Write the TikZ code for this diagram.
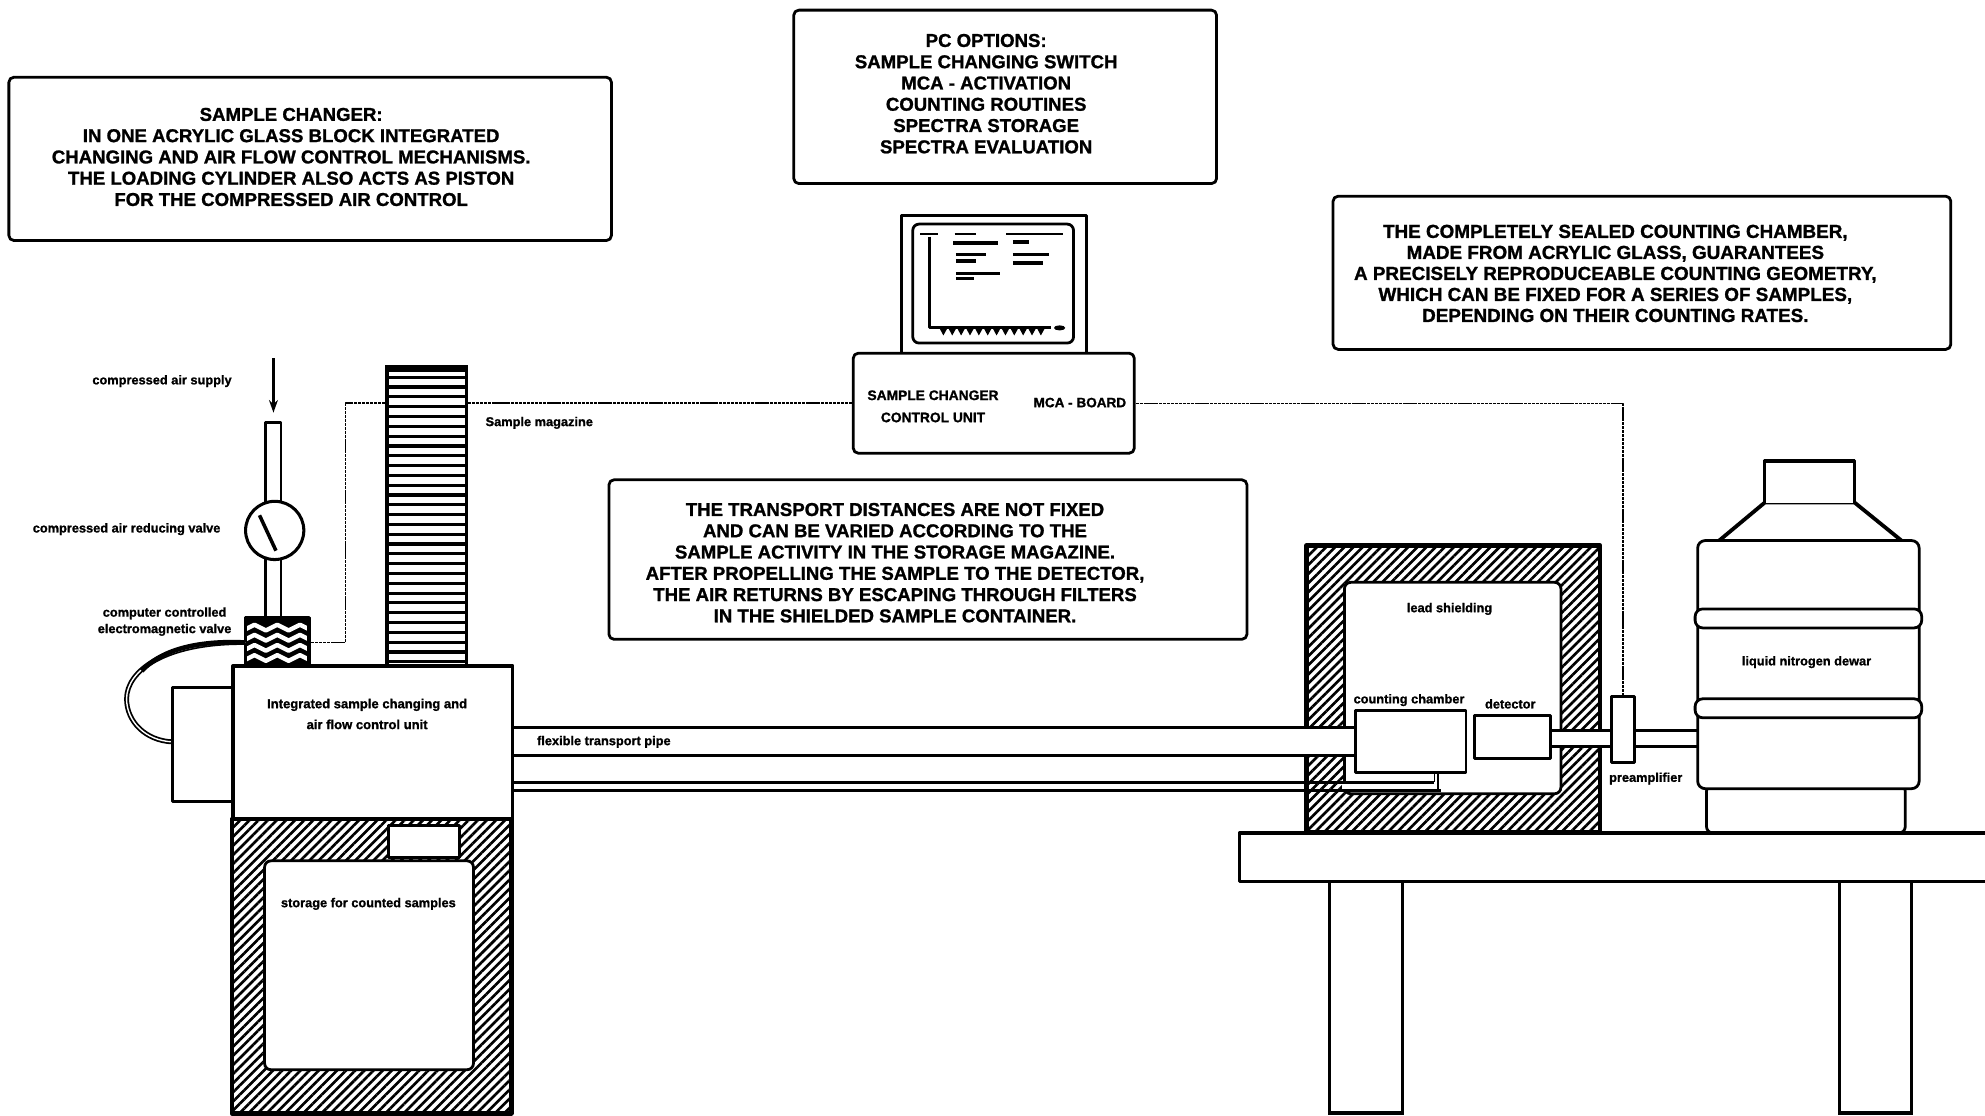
\documentclass[tikz,border=0pt]{standalone}
\usepackage{fontspec}
\setmainfont{Liberation Sans}[BoldFeatures={FakeBold=1.2}]
\usetikzlibrary{arrows.meta,positioning,patterns.meta,calc}
\tikzset{
  notebox/.style={draw,rounded corners=4pt,line width=2.2pt,fill=white,inner sep=0pt},
  notetext/.style={align=center,font=\fontsize{14.7}{16.8}\selectfont\bfseries},
  smalltext/.style={font=\fontsize{10.1}{17}\selectfont\bfseries,align=center},
  block/.style={draw,line width=2.3pt,fill=white,inner sep=0pt},
  leadfill/.style={pattern={Lines[angle=45,distance=5.1pt,line width=2.1pt]}},
  wire/.style={line width=1.2pt,dash pattern=on 2.5pt off .6pt},
  tube/.style={line width=2.4pt}
}
\begin{document}
\begin{tikzpicture}[x=1pt,y=-1pt,line join=round]
  \useasboundingbox (0,0) rectangle (1568,881);
  % text boxes
  \draw[notebox] (7,61) rectangle (483,190);
  \node[notetext] (changertext) at (230,124) {SAMPLE CHANGER:\\IN ONE ACRYLIC GLASS BLOCK INTEGRATED\\CHANGING AND AIR FLOW CONTROL MECHANISMS.\\THE LOADING CYLINDER ALSO ACTS AS PISTON\\FOR THE COMPRESSED AIR CONTROL};
  \draw[notebox] (627,8) rectangle (961,145);
  \node[notetext] (pctext) at (779,74) {PC OPTIONS:\\SAMPLE CHANGING SWITCH\\MCA - ACTIVATION\\COUNTING ROUTINES\\SPECTRA STORAGE\\SPECTRA EVALUATION};
  \draw[notebox] (1053,155) rectangle (1541,276);
  \node[notetext,font=\fontsize{14.9}{16.6}\selectfont\bfseries] (chambertext) at (1276,216) {THE COMPLETELY SEALED COUNTING CHAMBER,\\MADE FROM ACRYLIC GLASS, GUARANTEES\\A PRECISELY REPRODUCEABLE COUNTING GEOMETRY,\\WHICH CAN BE FIXED FOR A SERIES OF SAMPLES,\\DEPENDING ON THEIR COUNTING RATES.};
  \draw[notebox] (481,379) rectangle (985,505);
  \node[notetext] (transporttext) at (707,444.5) {THE TRANSPORT DISTANCES ARE NOT FIXED\\AND CAN BE VARIED ACCORDING TO THE\\SAMPLE ACTIVITY IN THE STORAGE MAGAZINE.\\AFTER PROPELLING THE SAMPLE TO THE DETECTOR,\\THE AIR RETURNS BY ESCAPING THROUGH FILTERS\\IN THE SHIELDED SAMPLE CONTAINER.};

  % PC
  \node[block,minimum width=146pt,minimum height=109pt] (monitor) at (785,224.5) {};
  \draw[line width=2.2pt,rounded corners=5pt] (721,177) rectangle (848,271);
  \draw[line width=2.4pt] (734.5,187) -- (734.5,259) -- (830,259);
  \foreach \xa/\ya/\xb in {727/185/741,754/185/771,795/185/840}
    \draw[line width=1.2pt] (\xa,\ya) -- (\xb,\ya);
  \foreach \xa/\ya/\xb in {753/192/788,800/191/813,755/201/779,755/206/771,800/201/829,800/208/824,755/216/790,755/220/769}
    \draw[line width=3pt] (\xa,\ya) -- (\xb,\ya);
  \foreach \x in {742,749,...,822}
    \fill (\x,259) -- (\x+6.5,259) -- (\x+3.2,265) -- cycle;
  \fill (837,259) ellipse (4.5pt and 2pt);
  \node[notebox,minimum width=222pt,minimum height=79pt] (ctrlunit) at (785,318.5) {};
  \node[smalltext,font=\fontsize{10.9}{17.5}\selectfont\bfseries] (ctrltext) at (737,321) {SAMPLE CHANGER\\CONTROL UNIT};
  \node[smalltext,font=\fontsize{10.7}{14}\selectfont\bfseries] (mcatext) at (853,318) {MCA - BOARD};

  % lead shielding
  \draw[line width=3.4pt,fill=white,leadfill] (1032,431) rectangle (1264,657);
  \draw[line width=2.2pt,fill=white,rounded corners=5pt] (1062,460) rectangle (1233,627);
  \node[smalltext] (leadtext) at (1145,481) {lead shielding};

  % transport pipes and tubes
  \fill[white] (405,575) rectangle (1072,597);
  \fill[white] (1060,618) rectangle (1133,624);
  \fill[white] (1225,577) rectangle (1341,590);
  \draw[tube] (405,575) -- (1072,575) (405,597) -- (1072,597);
  \draw[tube] (405,618) -- (1133,618) (405,624.5) -- (1138,624.5);
  \draw[line width=1.2pt] (1133,610) -- (1133,618) (1136,610) -- (1136,624);
  \draw[tube] (1225,577) -- (1274,577) (1225,590) -- (1274,590);
  \draw[tube] (1292,577) -- (1341,577) (1292,590) -- (1341,590);
  \node[block,minimum width=87pt,minimum height=49pt] (chamber) at (1114.5,585.5) {};
  \node[block,minimum width=60pt,minimum height=34pt] (detector) at (1195,582) {};
  \node[block,minimum width=18pt,minimum height=52pt] (preamp) at (1282,576) {};
  \node[smalltext] (chamberlabel) at (1113,553) {counting chamber};
  \node[smalltext] (detectorlabel) at (1193,556) {detector};
  \node[smalltext] (preamplabel) at (1300,615) {preamplifier};
  \node[smalltext] (pipelabel) at (477,586) {flexible transport pipe};

  % storage
  \draw[line width=3.4pt,leadfill] (183,647) rectangle (404,879.5);
  \draw[line width=2.2pt,fill=white,rounded corners=5pt] (209,680) rectangle (374,845);
  \node[block,minimum width=56pt,minimum height=25pt] (notch) at (335,664.5) {};
  \node[smalltext] (storagetext) at (291,714) {storage for counted samples};

  % air supply
  \coordinate (airtop) at (216,283);
  \coordinate (airend) at (216,326);
  \draw[line width=2pt,-{Stealth[length=10pt,width=7pt]}] (airtop) -- (airend);
  \draw[line width=2.3pt,fill=white] (209.5,334) rectangle (222,400);
  \draw[line width=2.3pt,fill=white] (210,440) rectangle (222,490);
  \node[draw,circle,line width=2.4pt,fill=white,minimum size=46pt,inner sep=0pt] (gauge) at (217,419) {};
  \draw[line width=2.8pt] (205,407) -- (218,435);
  \node[block,minimum width=48pt,minimum height=37pt] (valve) at (219,507.5) {};
  \begin{scope}
    \clip (195,489) rectangle (243,526);
    \fill (195,489) rectangle (243,526);
    \foreach \yy in {498,506,514,522}
      \draw[white,line width=3.4pt] (192,\yy) -- ++(9,-4.5) -- ++(9,4.5) -- ++(9,-4.5) -- ++(9,4.5) -- ++(9,-4.5) -- ++(9,4.5);
  \end{scope}
  \draw[line width=2.6pt] (valve.north west) rectangle (valve.south east);

  % wires to the control unit
  \coordinate (wirebend) at (273,400);
  \draw[wire] (ctrlunit.west) -| (wirebend) |- (valve.east);
  \draw[wire,line width=.9pt] (ctrlunit.east) -| (preamp.north);

  % magazine
  \draw[line width=2.8pt,fill=white] (305.5,290) rectangle (368.5,526);
  \fill (304,288) rectangle (370,294);
  \foreach \yy in {298,305.75,...,525}
    \draw[line width=2.5pt] (305,\yy) -- (369,\yy);
  \node[smalltext] (magazinetext) at (426,334) {Sample magazine};

  % main unit
  \coordinate (hoseend) at (136,586);
  \draw[line width=1.4pt,double,double distance=1.1pt] (hoseend) .. controls (115,585) and (100,570) .. (100,552) .. controls (100,530) and (130,507) .. (valve.west);
  \draw[line width=3.6pt] (112,530) .. controls (130,510) and (165,506) .. (valve.west);
  \node[block,minimum width=48pt,minimum height=90pt] (sidebox) at (160,588) {};
  \node[block,line width=2.8pt,minimum width=221pt,minimum height=121pt] (mainunit) at (294.5,586.5) {};
  \node[smalltext,font=\fontsize{10.3}{16.5}\selectfont\bfseries] (unittext) at (290,564) {Integrated sample changing and\\air flow control unit};
  \node[smalltext] (supplytext) at (128,301) {compressed air supply};
  \node[smalltext] (reducetext) at (100,418) {compressed air reducing valve};
  \node[smalltext,font=\fontsize{10.1}{13}\selectfont\bfseries] (valvetext) at (130,491) {computer controlled\\electromagnetic valve};

  % dewar
  \draw[line width=3pt,fill=white] (1358,427) -- (1394,397) -- (1465,397) -- (1502,427);
  \draw[line width=2.2pt,fill=white] (1394,397) -- (1394,364) -- (1465,364) -- (1465,397);
  \draw[line width=3.6pt] (1394,364) -- (1465,364);
  \draw[line width=2.2pt,fill=white,rounded corners=5pt] (1348,620) rectangle (1505,658);
  \draw[line width=2.2pt,fill=white,rounded corners=6pt] (1341,427) rectangle (1516,623);
  \draw[line width=2.2pt,fill=white,rounded corners=6pt] (1339,481) rectangle (1518,496);
  \draw[line width=2.2pt,fill=white,rounded corners=6pt] (1339,552) rectangle (1518,567);
  \node[smalltext] (dewartext) at (1427,523) {liquid nitrogen dewar};

  % table
  \draw[line width=2.4pt,fill=white] (1568.5,658) -- (979,658) -- (979,696) -- (1568.5,696);
  \draw[line width=2.2pt] (1050,880) -- (1050,696) -- (1108,696) -- (1108,880);
  \draw[line width=3pt] (1049,879) -- (1109,879);
  \draw[line width=2.2pt] (1453,880) -- (1453,696) -- (1510,696) -- (1510,880);
  \draw[line width=3pt] (1452,879) -- (1511,879);
\end{tikzpicture}
\end{document}
